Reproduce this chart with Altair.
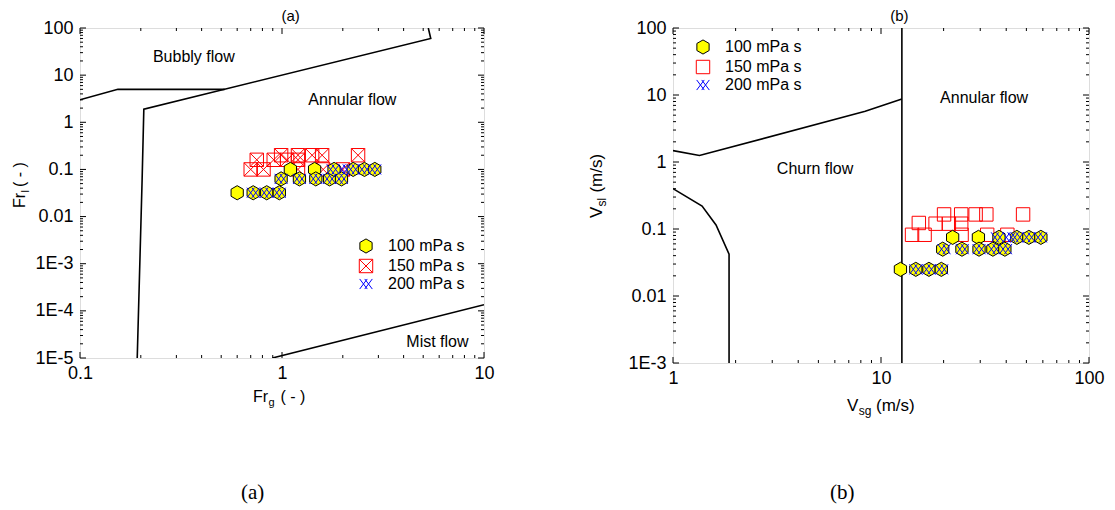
import altair as alt
import pandas as pd

FONT = "Liberation Sans"
SERIES = ["100 mPa s", "150 mPa s", "200 mPa s"]

# ---------------- panel (a) data: Fr_g vs Fr_l ----------------
a100_x = [0.60, 0.72, 0.84, 0.97, 0.99, 1.10, 1.22, 1.45, 1.47, 1.72, 1.81, 1.97, 2.25, 2.56, 2.88]
a100_y = [0.032, 0.032, 0.032, 0.032, 0.063, 0.10, 0.063, 0.10, 0.063, 0.063, 0.10, 0.063, 0.10, 0.10, 0.10]
a150_x = [0.70, 0.75, 0.81, 0.91, 0.99, 1.06, 1.20, 1.20, 1.20, 1.41, 1.58, 1.60, 2.00, 2.38]
a150_y = [0.10, 0.16, 0.10, 0.16, 0.20, 0.16, 0.20, 0.16, 0.10, 0.20, 0.20, 0.10, 0.10, 0.20]
a200_x = [0.72, 0.84, 0.97, 0.99, 1.22, 1.47, 1.72, 1.97, 1.79, 2.03, 2.25, 2.56, 2.88]
a200_y = [0.032, 0.032, 0.032, 0.063, 0.063, 0.063, 0.063, 0.063, 0.10, 0.10, 0.10, 0.10, 0.10]

# regime boundaries (a)
a_bubbly_x = [0.10, 0.154, 0.52]
a_bubbly_y = [3.0, 5.0, 5.0]
a_annular_x = [0.192, 0.203, 0.207, 5.45, 5.30]
a_annular_y = [1e-5, 0.06, 1.9, 60.0, 100.0]
a_mist_x = [0.896, 10.0]
a_mist_y = [1e-5, 1.35e-4]

a_note_t = ["Bubbly flow", "Annular flow", "Mist flow"]
a_note_x = [0.366, 2.23, 5.88]
a_note_y = [23.9, 3.0, 2.19e-5]

# ---------------- panel (b) data: V_sg vs V_sl ----------------
b100_x = [12.4, 14.7, 17.0, 19.5, 19.8, 22.1, 24.5, 29.4, 29.6, 34.5, 36.9, 39.4, 45.0, 51.4, 58.7]
b100_y = [0.025, 0.025, 0.025, 0.025, 0.05, 0.075, 0.05, 0.075, 0.05, 0.05, 0.075, 0.05, 0.075, 0.075, 0.075]
b150_x = [14.1, 15.2, 16.2, 18.3, 20.1, 21.2, 24.3, 24.3, 24.4, 28.5, 32.1, 32.4, 40.5, 48.2]
b150_y = [0.082, 0.123, 0.082, 0.12, 0.165, 0.12, 0.165, 0.12, 0.082, 0.165, 0.165, 0.082, 0.082, 0.165]
b200_x = [14.7, 17.0, 19.6, 20.1, 24.6, 29.6, 34.9, 39.7, 36.3, 41.2, 45.2, 51.5, 58.5]
b200_y = [0.025, 0.025, 0.025, 0.05, 0.05, 0.05, 0.05, 0.05, 0.075, 0.075, 0.075, 0.075, 0.075]

b_upper_x = [1.0, 1.34, 8.4, 12.6]
b_upper_y = [1.48, 1.25, 5.7, 8.7]
b_lower_x = [1.0, 1.38, 1.61, 1.86, 1.86]
b_lower_y = [0.40, 0.22, 0.115, 0.042, 1e-3]
b_vert_x = [12.6, 12.6]
b_vert_y = [1e-3, 100.0]

b_note_t = ["Annular flow", "Churn flow"]
b_note_x = [31.3, 4.82]
b_note_y = [8.98, 0.78]

# ---------------- tick values ----------------
a_x_major = [0.1, 1, 10]
a_y_major = [1e-5, 1e-4, 1e-3, 0.01, 0.1, 1, 10, 100]
b_x_major = [1, 10, 100]
b_y_major = [1e-3, 0.01, 0.1, 1, 10, 100]
MULTS = [2, 3, 4, 5, 6, 7, 8, 9]
a_x_minor = [m * d for d in [0.1, 1] for m in MULTS]
a_y_minor = [m * d for d in [1e-5, 1e-4, 1e-3, 0.01, 0.1, 1, 10] for m in MULTS]
b_x_minor = [m * d for d in [1, 10] for m in MULTS]
b_y_minor = [m * d for d in [1e-3, 0.01, 0.1, 1, 10] for m in MULTS]

# ---------------- marker styles ----------------
HEX = "M0,-1L0.866,-0.5L0.866,0.5L0,1L-0.866,0.5L-0.866,-0.5Z"
SQX = "M-1,-1L1,-1L1,1L-1,1Z M-1,-1L1,1 M1,-1L-1,1"
SQ = "M-1,-1L1,-1L1,1L-1,1Z"
XX = ("M-1,-0.8L0.2,0.8 M-0.2,-0.8L1,0.8 "
      "M-1,0.8L0.2,-0.8 M-0.2,0.8L1,-0.8")
FILLS = ["#ffff00", "transparent", "transparent"]
STROKES = ["#000000", "#ff0000", "#0000ff"]
SIZES = [200, 160, 289]

LABEL_EXPR = ("datum.value > 0.005 ? toString(datum.value) : "
              "'1E' + toString(round(log(datum.value) / LN10))")


def points_df(series):
    rows = []
    for name, xs, ys in series:
        for x, y in zip(xs, ys):
            rows.append({"x": x, "y": y, "s": name})
    return pd.DataFrame(rows)


def lines_df(lines):
    rows = []
    for gi, (xs, ys) in enumerate(lines):
        for i, (x, y) in enumerate(zip(xs, ys)):
            rows.append({"x": x, "y": y, "g": gi, "o": i})
    return pd.DataFrame(rows)


def text_piece(t, x, y, size=16, angle=0, align="left", baseline="alphabetic", font=FONT):
    return alt.Chart(pd.DataFrame({"t": [t]})).mark_text(
        font=font, fontSize=size, angle=angle, align=align, baseline=baseline, color="black"
    ).encode(text="t:N", x=alt.value(x), y=alt.value(y))


def panel(W, H, xdom, ydom, xmaj, xmin_, ymaj, ymin_, pts, shapes, lines,
          notes, legx, legy, pieces):
    xs = alt.Scale(type="log", domain=xdom, nice=False)
    ys = alt.Scale(type="log", domain=ydom, nice=False)
    common = dict(labelExpr=LABEL_EXPR, ticks=False, tickSize=0, domain=False, grid=False,
                  title=None, labelFont=FONT, labelFontSize=18, labelColor="black",
                  labelFlush=False, labelOverlap=False, labelBound=False)
    xaxis = alt.Axis(values=xmaj, labelPadding=6, **common)
    yaxis = alt.Axis(values=ymaj, labelPadding=7, **common)

    def X(f):
        return alt.X(f, scale=xs, axis=xaxis)

    def Y(f):
        return alt.Y(f, scale=ys, axis=yaxis)

    layers = []
    # inward ticks on all four sides
    for vals, ln in [(xmaj, 6), (xmin_, 3)]:
        d = pd.DataFrame({"v": vals})
        layers.append(alt.Chart(d).mark_rule(color="black", strokeWidth=1).encode(
            x=X("v:Q"), y=alt.value(H), y2=alt.value(H - ln)))
        layers.append(alt.Chart(d).mark_rule(color="black", strokeWidth=1).encode(
            x=X("v:Q"), y=alt.value(0), y2=alt.value(ln)))
    for vals, ln in [(ymaj, 6), (ymin_, 3)]:
        d = pd.DataFrame({"v": vals})
        layers.append(alt.Chart(d).mark_rule(color="black", strokeWidth=1).encode(
            y=Y("v:Q"), x=alt.value(0), x2=alt.value(ln)))
        layers.append(alt.Chart(d).mark_rule(color="black", strokeWidth=1).encode(
            y=Y("v:Q"), x=alt.value(W), x2=alt.value(W - ln)))

    layers.append(alt.Chart(lines).mark_line(color="black", strokeWidth=1.6, clip=True).encode(
        x=X("x:Q"), y=Y("y:Q"), detail="g:N", order="o:Q"))

    leg = alt.Legend(title=None, orient="none", legendX=legx, legendY=legy,
                     labelFont=FONT, labelFontSize=16, labelColor="black",
                     rowPadding=1, labelOffset=14, symbolStrokeWidth=1, padding=0)
    layers.append(alt.Chart(pts).mark_point(opacity=1, strokeWidth=1).encode(
        x=X("x:Q"), y=Y("y:Q"),
        shape=alt.Shape("s:N", scale=alt.Scale(domain=SERIES, range=shapes), legend=leg),
        fill=alt.Fill("s:N", scale=alt.Scale(domain=SERIES, range=FILLS), legend=leg),
        stroke=alt.Stroke("s:N", scale=alt.Scale(domain=SERIES, range=STROKES), legend=leg),
        size=alt.Size("s:N", scale=alt.Scale(domain=SERIES, range=SIZES), legend=leg),
    ))

    layers.append(alt.Chart(notes).mark_text(font=FONT, fontSize=16, color="black").encode(
        x=X("x:Q"), y=Y("y:Q"), text="t:N"))

    for p in pieces:
        layers.append(text_piece(**p))

    return alt.layer(*layers).properties(width=W, height=H)


# ---------------- build panel (a) ----------------
pa_pts = points_df([("150 mPa s", a150_x, a150_y), ("100 mPa s", a100_x, a100_y),
                    ("200 mPa s", a200_x, a200_y)])
pa_lines = lines_df([(a_bubbly_x, a_bubbly_y), (a_annular_x, a_annular_y), (a_mist_x, a_mist_y)])
pa_notes = pd.DataFrame({"x": a_note_x, "y": a_note_y, "t": a_note_t})
WA, HA = 404, 330
pa_pieces = [
    dict(t="(a)", x=210.7, y=-12, size=15, align="center", baseline="middle"),
    dict(t="Fr", x=173, y=374, size=16),
    dict(t="g", x=188.5, y=378, size=11),
    dict(t="( - )", x=200.5, y=374, size=16),
    dict(t="Fr", x=-55, y=180, size=16, angle=270),
    dict(t="l", x=-51.5, y=164.5, size=11, angle=270),
    dict(t="( - )", x=-55, y=159, size=16, angle=270),
    dict(t="(a)", x=172.7, y=465, size=21, align="center", baseline="middle",
         font="Liberation Serif"),
]
pa = panel(WA, HA, [0.1, 10], [1e-5, 100], a_x_major, a_x_minor, a_y_major, a_y_minor,
           pa_pts, [HEX, SQX, XX], pa_lines, pa_notes, 278, 210, pa_pieces)

# ---------------- build panel (b) ----------------
pb_pts = points_df([("150 mPa s", b150_x, b150_y), ("100 mPa s", b100_x, b100_y),
                    ("200 mPa s", b200_x, b200_y)])
pb_lines = lines_df([(b_upper_x, b_upper_y), (b_lower_x, b_lower_y), (b_vert_x, b_vert_y)])
pb_notes = pd.DataFrame({"x": b_note_x, "y": b_note_y, "t": b_note_t})
WB, HB = 416, 335
pb_pieces = [
    dict(t="(b)", x=226.4, y=-12.3, size=15, align="center", baseline="middle"),
    dict(t="V", x=174, y=383, size=17),
    dict(t="sg", x=185.8, y=387, size=12),
    dict(t="(m/s)", x=203, y=383, size=17),
    dict(t="V", x=-71, y=190, size=17, angle=270),
    dict(t="sl", x=-67, y=178.5, size=12, angle=270),
    dict(t="(m/s)", x=-71, y=164.6, size=17, angle=270),
    dict(t="(b)", x=169.3, y=464.7, size=21, align="center", baseline="middle",
         font="Liberation Serif"),
]
pb = panel(WB, HB, [1, 100], [1e-3, 100], b_x_major, b_x_minor, b_y_major, b_y_minor,
           pb_pts, [HEX, SQ, XX], pb_lines, pb_notes, 22, 11, pb_pieces)

chart = alt.hconcat(pa, pb, spacing=92).resolve_scale(
    x="independent", y="independent", shape="independent", fill="independent",
    stroke="independent", size="independent"
).resolve_legend(
    shape="independent", fill="independent", stroke="independent", size="independent"
).properties(
    padding={"left": 11, "top": 8, "right": 0, "bottom": 0}
).configure_view(stroke="black", strokeWidth=1.2).configure(font=FONT)

chart.save("out.html", embed_options={"renderer": "svg", "actions": False})
